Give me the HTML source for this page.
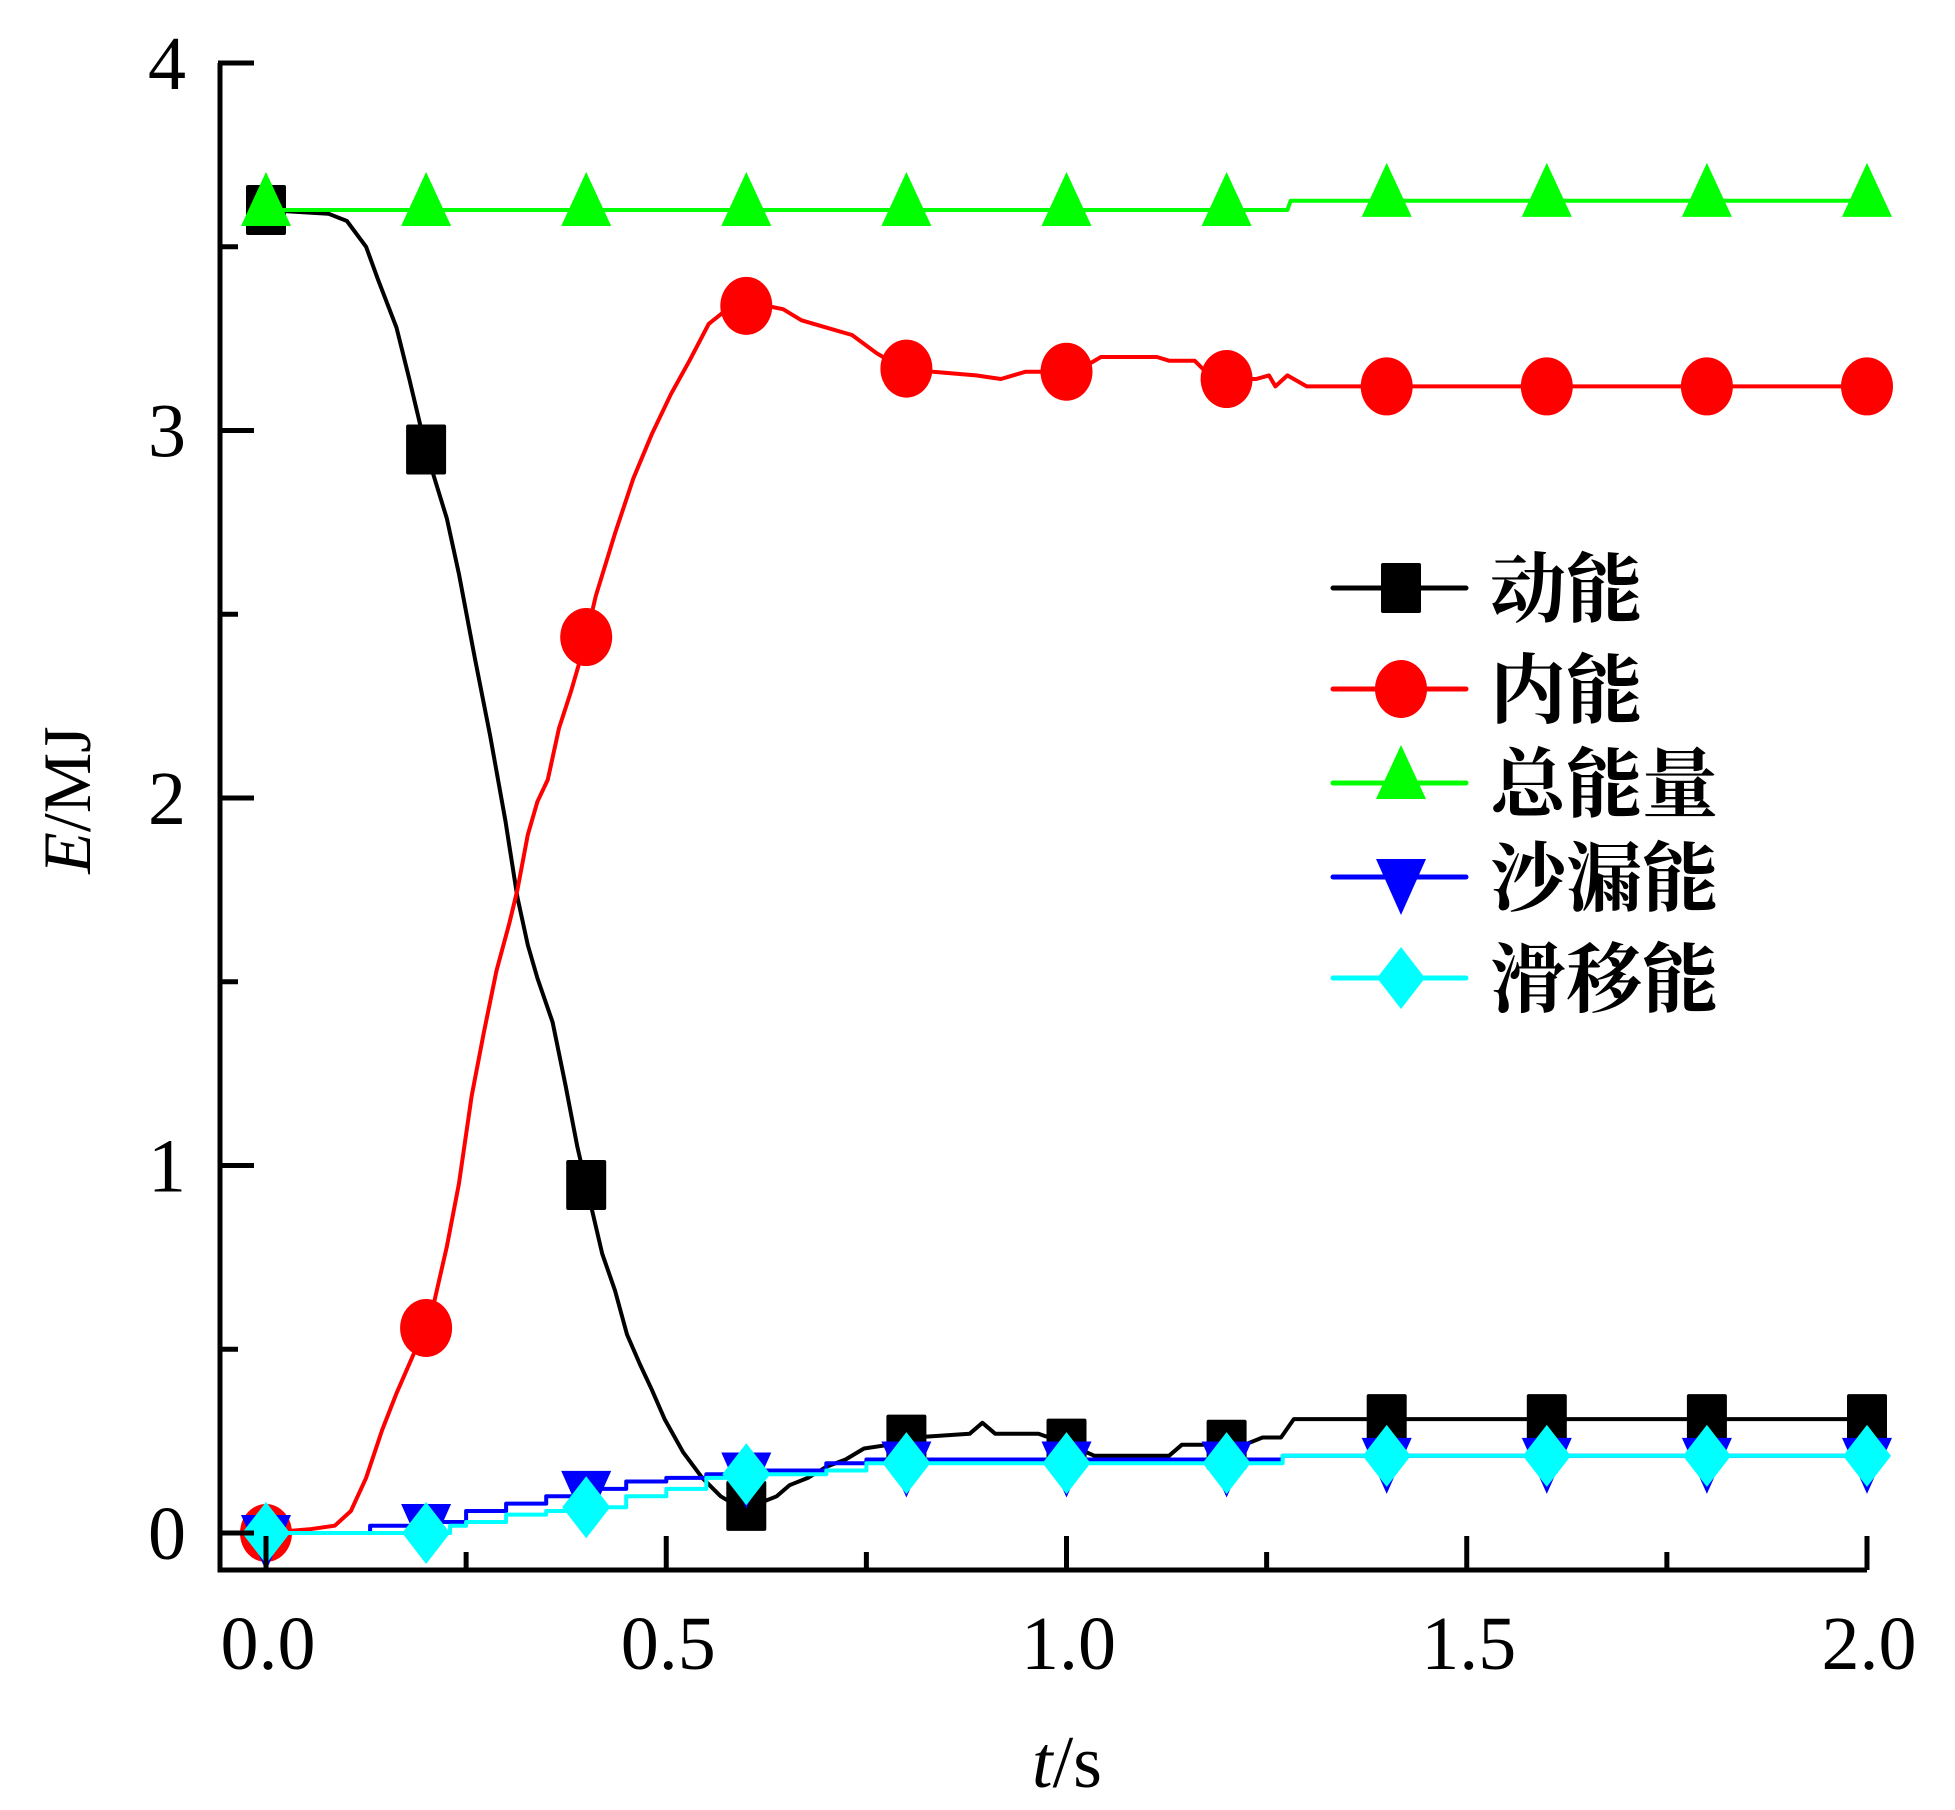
<!DOCTYPE html>
<html><head><meta charset="utf-8"><style>
html,body{margin:0;padding:0;background:#fff;}
svg{display:block;}
</style></head><body>
<svg id="chart" width="1955" height="1810" viewBox="0 0 1955 1810" xmlns="http://www.w3.org/2000/svg">
<g id="plot"></g>
<g id="axes"></g>
<g id="legend"></g>
</svg>
<script>
// ---- data ----
const markerT = [0,0.2,0.4,0.6,0.8,1.0,1.2,1.4,1.6,1.8,2.0];
const kinT = [0,0.078,0.101,0.125,0.140,0.163,0.179,0.202,0.226,0.241,0.261,0.280,0.299,0.314,0.327,0.339,0.358,0.374,0.389,0.405,0.420,0.436,0.451,0.467,0.482,0.498,0.521,0.545,0.568,0.591,0.615,0.638,0.654,0.677,0.700,0.724,0.747,0.778,0.809,0.879,0.895,0.911,0.965,1.004,1.035,1.128,1.144,1.222,1.245,1.268,1.284,2.0];
const kinV = [3.60,3.59,3.57,3.50,3.41,3.28,3.14,2.93,2.76,2.61,2.38,2.17,1.94,1.73,1.60,1.51,1.39,1.22,1.05,0.90,0.76,0.66,0.54,0.46,0.39,0.31,0.22,0.15,0.10,0.07,0.08,0.10,0.13,0.15,0.18,0.20,0.23,0.24,0.26,0.27,0.30,0.27,0.27,0.24,0.21,0.21,0.24,0.24,0.26,0.26,0.31,0.31];
const intT = [0,0.054,0.086,0.106,0.125,0.145,0.163,0.187,0.205,0.226,0.241,0.257,0.272,0.288,0.304,0.314,0.327,0.339,0.352,0.366,0.381,0.397,0.412,0.436,0.459,0.482,0.506,0.529,0.553,0.576,0.602,0.623,0.646,0.669,0.700,0.732,0.763,0.794,0.833,0.887,0.918,0.949,1.012,1.043,1.113,1.128,1.160,1.183,1.237,1.253,1.261,1.276,1.300,2.0];
const intV = [0,0.01,0.02,0.06,0.15,0.28,0.38,0.50,0.58,0.78,0.95,1.19,1.36,1.53,1.66,1.75,1.90,1.99,2.05,2.19,2.29,2.41,2.55,2.72,2.87,2.99,3.10,3.19,3.29,3.33,3.34,3.34,3.33,3.30,3.28,3.26,3.21,3.17,3.16,3.15,3.14,3.16,3.16,3.20,3.20,3.19,3.19,3.14,3.14,3.15,3.12,3.15,3.12,3.12];
const totT = [0,1.276,1.28,2.0];
const totV = [3.60,3.60,3.625,3.625];
const sandT = [0,0.13,0.2,0.25,0.3,0.35,0.4,0.45,0.5,0.55,0.6,0.7,0.75,0.8,0.82,1.0,1.25,1.27,2.0];
const sandV = [0,0.02,0.03,0.06,0.08,0.10,0.12,0.14,0.15,0.16,0.17,0.19,0.20,0.20,0.20,0.20,0.20,0.21,0.21];
const slipT = [0,0.23,0.25,0.3,0.35,0.4,0.45,0.5,0.55,0.6,0.7,0.75,0.8,1.0,1.25,1.27,2.0];
const slipV = [0,0.02,0.03,0.05,0.06,0.07,0.10,0.12,0.15,0.16,0.17,0.19,0.19,0.19,0.19,0.21,0.21];
const xTicks = [0,0.5,1.0,1.5,2.0];
const xTickLabels = ["0.0","0.5","1.0","1.5","2.0"];
const yTicks = [0,1,2,3,4];
const yTickLabels = ["0","1","2","3","4"];
const legendLabels = ["动能","内能","总能量","沙漏能","滑移能"];

// ---- scales ----
const X0=266, XS=800.5, Y0=1533, YS=367.5;
function sx(t){return X0+t*XS;}
function sy(v){return Y0-v*YS;}
const NS="http://www.w3.org/2000/svg";
function mk(tag,attrs,parent){const e=document.createElementNS(NS,tag);for(const k in attrs)e.setAttribute(k,attrs[k]);parent.appendChild(e);return e;}
function interp(T,V,t){for(let i=0;i<T.length-1;i++){if(t>=T[i]&&t<=T[i+1]){const f=(t-T[i])/((T[i+1]-T[i])||1);return V[i]+f*(V[i+1]-V[i]);}}return V[V.length-1];}
function stepAt(T,V,t){let v=V[0];for(let i=0;i<T.length;i++){if(T[i]<=t+1e-9)v=V[i];}return v;}
const plot=document.getElementById('plot');
const axes=document.getElementById('axes');
const legend=document.getElementById('legend');

function linePath(T,V){return T.map((t,i)=>(i?'L':'M')+sx(t).toFixed(1)+' '+sy(V[i]).toFixed(1)).join(' ');}
function stepPath(T,V){let d='M'+sx(T[0])+' '+sy(V[0]);for(let i=1;i<T.length;i++){d+=' L'+sx(T[i]).toFixed(1)+' '+sy(V[i-1]).toFixed(1)+' L'+sx(T[i]).toFixed(1)+' '+sy(V[i]).toFixed(1);}return d;}

function marker(type,cx,cy,color,parent){
  let e;
  if(type==='square') e=mk('rect',{x:cx-20,y:cy-25,width:40,height:50,rx:2,fill:color},parent);
  else if(type==='circle') e=mk('ellipse',{cx:cx,cy:cy,rx:26,ry:29,fill:color},parent);
  else if(type==='up') e=mk('polygon',{points:`${cx},${cy-38} ${cx+25},${cy+16} ${cx-25},${cy+16}`,fill:color},parent);
  else if(type==='down') e=mk('polygon',{points:`${cx-25},${cy-18} ${cx+25},${cy-18} ${cx},${cy+38}`,fill:color},parent);
  else e=mk('polygon',{points:`${cx},${cy-31} ${cx+24},${cy} ${cx},${cy+31} ${cx-24},${cy}`,fill:color},parent);
  return e;
}

const series=[
 {name:'kinetic',T:kinT,V:kinV,color:'#000',m:'square',step:false},
 {name:'internal',T:intT,V:intV,color:'#ff0000',m:'circle',step:false},
 {name:'total',T:totT,V:totV,color:'#00ff00',m:'up',step:false},
 {name:'sand',T:sandT,V:sandV,color:'#0000ff',m:'down',step:true},
 {name:'slip',T:slipT,V:slipV,color:'#00ffff',m:'diamond',step:true}
];
series.forEach(s=>{
  const g=mk('g',{},plot);
  
  
  const p=mk('path',{d:s.step?stepPath(s.T,s.V):linePath(s.T,s.V),fill:'none',stroke:s.color,'stroke-width':4,'stroke-linejoin':'round'},g);
  
  
  markerT.forEach(t=>{
    const v=s.step?stepAt(s.T,s.V,t):interp(s.T,s.V,t);
    const e=marker(s.m,sx(t),sy(v),s.color,g);
    
    
  });
});

// axes
const ax=mk('path',{d:`M220 ${sy(4)} L220 1570 L${sx(2.0)} 1570`,fill:'none',stroke:'#000','stroke-width':5},axes);


mk('line',{x1:218,y1:sy(4),x2:254,y2:sy(4),stroke:'#000','stroke-width':5},axes);
for(let i=0;i<8;i++){const v=i*0.5;const major=(i%2===0);
  const l=mk('line',{x1:220,y1:sy(v),x2:220+(major?34:18),y2:sy(v),stroke:'#000','stroke-width':5},axes);
  
  
}
for(let i=0;i<=8;i++){const t=i*0.25;const major=(i%2===0);
  const l=mk('line',{x1:sx(t),y1:1570,x2:sx(t),y2:1570-(major?34:18),stroke:'#000','stroke-width':5},axes);
  
  
}
xTicks.forEach((t,i)=>{
  const e=mk('text',{x:sx(t)+2,y:1669,'text-anchor':'middle','font-family':'"Liberation Serif",serif','font-size':76},axes);
  e.textContent=xTickLabels[i];
  
  
});
yTicks.forEach((v,i)=>{
  const e=mk('text',{x:186,y:sy(v)+26,'text-anchor':'end','font-family':'"Liberation Serif",serif','font-size':76},axes);
  e.textContent=yTickLabels[i];
  
  
});
const xt=mk('text',{x:1067,y:1787,'text-anchor':'middle','font-family':'"Liberation Serif",serif','font-size':74},axes);
xt.innerHTML='<tspan font-style="italic">t</tspan>/s';


const yt=mk('text',{x:0,y:0,'text-anchor':'middle','font-family':'"Liberation Serif",serif','font-size':68,transform:'translate(90 800) rotate(-90)'},axes);
yt.innerHTML='<tspan font-style="italic">E</tspan>/MJ';



// legend
const rowY=[588,689,783,877,978];
series.forEach((s,i)=>{
  const g=mk('g',{},legend);
  
  
  mk('line',{x1:1333,y1:rowY[i],x2:1466,y2:rowY[i],stroke:s.color,'stroke-width':5,'stroke-linecap':'round'},g);
  marker(s.m,1401,rowY[i],s.color,g);
  const tx=mk('text',{x:1490,y:rowY[i]+28,'font-family':'"Liberation Serif","Noto Serif CJK SC",serif','font-weight':'bold','font-size':76},g);
  tx.textContent=legendLabels[i];
});
</script>
</body></html>
